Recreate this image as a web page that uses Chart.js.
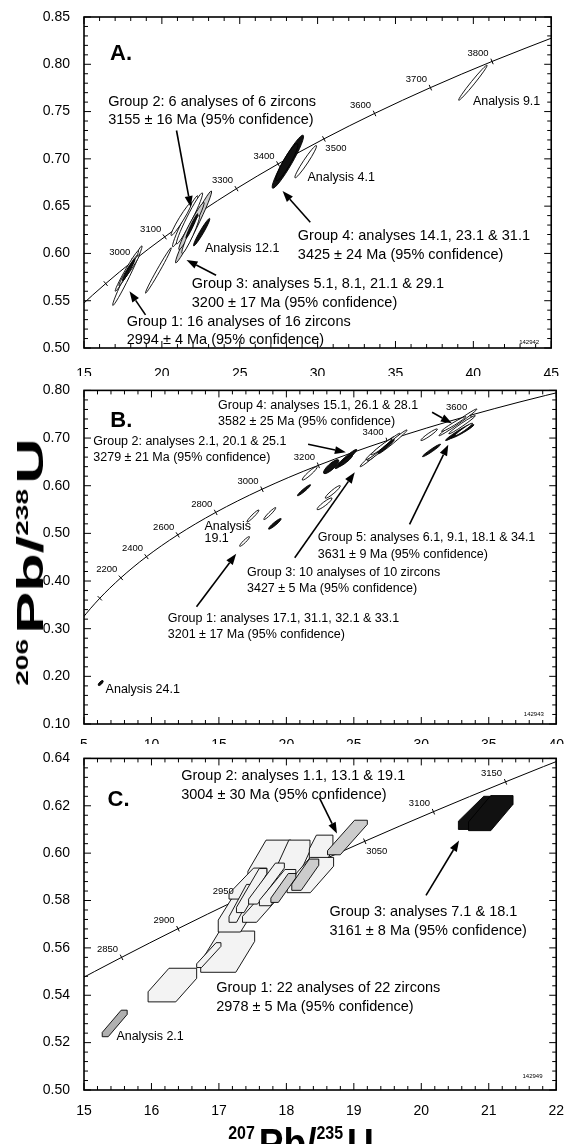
<!DOCTYPE html>
<html>
<head>
<meta charset="utf-8">
<script src="https://cdn.jsdelivr.net/npm/chart.js@4.4.1/dist/chart.umd.min.js"></script>
<style>
body{margin:0;background:#fff;}
#wrap{position:relative;width:569px;height:1144px;overflow:hidden;background:#fff;font-family:"Liberation Sans",Arial,sans-serif;}
canvas{position:absolute;left:0;}
.ttl{position:absolute;font-weight:bold;white-space:nowrap;color:#000;}
#ytitle{font-size:36px;line-height:36px;left:27px;top:562px;transform:translate(-50%,-50%) scaleY(1.75) rotate(-90deg);}
#ytitle span{font-size:16px;vertical-align:15px;margin-right:3px;}
#xtitle{font-size:37px;line-height:37px;left:301px;top:1118px;transform-origin:50% 100%;transform:translateX(-50%) scaleY(1.15);}
#xtitle span{font-size:16px;vertical-align:17px;margin-right:4px;}
</style>
</head>
<body>
<div id="wrap">
<canvas id="chartA" width="569" height="376" style="top:0px"></canvas>
<canvas id="chartB" width="569" height="368" style="top:376px"></canvas>
<canvas id="chartC" width="569" height="400" style="top:744px"></canvas>
<div class="ttl" id="ytitle"><span>206</span>Pb/<span>238</span>U</div>
<div class="ttl" id="xtitle"><span>207</span>Pb/<span>235</span>U</div>
</div>
<script>
// concordia reference points: age (Ma), 207Pb/235U, 206Pb/238U
const concAges = [1800,1900,2000,2100,2200,2300,2400,2500,2600,2700,2750,2800,2850,2900,2950,3000,3050,3100,3150,3200,3300,3400,3500,3600,3700,3800,3900];
const concX = [4.887,5.496,6.169,6.911,7.729,8.633,9.630,10.730,11.944,13.283,14.004,14.762,15.557,16.393,17.271,18.193,19.162,20.180,21.249,22.372,24.790,27.460,30.405,33.656,37.242,41.200,45.568];
const concY = [0.3221,0.3428,0.3638,0.3851,0.4067,0.4287,0.4511,0.4738,0.4968,0.5202,0.5320,0.5440,0.5560,0.5681,0.5803,0.5926,0.6050,0.6175,0.6301,0.6428,0.6685,0.6946,0.7211,0.7480,0.7753,0.8030,0.8312];

// ages marked / labelled on each concordia
const ticksA = [2900,3000,3100,3200,3300,3400,3500,3600,3700,3800];
const labelsA = [3000,3100,3300,3400,3500,3600,3700,3800];
const ticksB = [2000,2200,2400,2600,2800,3000,3200,3400,3600];
const labelsB = [2200,2400,2600,2800,3000,3200,3400,3600];
const ticksC = [2850,2900,2950,3000,3050,3100,3150];
const labelsC = [2850,2900,2950,3050,3100,3150];

// error ellipses: kind, x1, y1, x2, y2 (ends of long axis), width ratio
const ellA = [
  ['o',16.85,0.545,18.72,0.608,0.07],
  ['o',17.01,0.560,18.50,0.603,0.08],
  ['g',17.24,0.566,18.43,0.598,0.09],
  ['o',17.58,0.574,18.56,0.599,0.10],
  ['d',17.47,0.571,18.27,0.594,0.07],
  ['o',18.95,0.558,20.60,0.606,0.06],
  ['g',20.89,0.590,23.18,0.666,0.08],
  ['o',20.70,0.607,22.30,0.661,0.10],
  ['o',20.95,0.610,22.60,0.664,0.10],
  ['g',21.10,0.604,22.70,0.654,0.10],
  ['o',20.60,0.619,21.90,0.654,0.12],
  ['o',21.30,0.600,22.40,0.640,0.12],
  ['d',21.55,0.616,22.30,0.642,0.06],
  ['d',22.04,0.608,23.07,0.637,0.12],
  ['d',27.11,0.669,29.07,0.725,0.14],
  ['d',27.35,0.677,28.70,0.716,0.18],
  ['o',28.55,0.680,29.92,0.714,0.12],
  ['o',39.06,0.762,40.88,0.799,0.08]
];
const ellB = [
  ['o',16.54,0.473,17.26,0.493,0.15],
  ['o',17.08,0.524,17.96,0.549,0.15],
  ['o',18.33,0.529,19.21,0.554,0.15],
  ['d',18.68,0.509,19.61,0.531,0.18],
  ['d',20.82,0.579,21.79,0.602,0.12],
  ['o',21.18,0.612,22.28,0.640,0.18],
  ['d',22.77,0.626,23.87,0.654,0.30],
  ['d',23.62,0.636,25.21,0.676,0.14],
  ['d',23.90,0.641,24.90,0.664,0.20],
  ['o',22.28,0.550,23.38,0.574,0.20],
  ['o',22.89,0.574,23.99,0.600,0.18],
  ['o',25.47,0.640,28.00,0.703,0.08],
  ['o',26.00,0.652,28.41,0.710,0.08],
  ['o',26.81,0.667,28.94,0.717,0.08],
  ['o',25.90,0.655,27.40,0.688,0.12],
  ['o',26.30,0.665,27.80,0.698,0.12],
  ['d',26.80,0.668,28.00,0.697,0.06],
  ['o',29.97,0.695,31.19,0.719,0.15],
  ['o',31.31,0.705,34.12,0.761,0.07],
  ['o',31.50,0.714,33.30,0.745,0.10],
  ['o',32.04,0.709,34.00,0.747,0.09],
  ['d',31.80,0.695,33.75,0.730,0.10],
  ['d',32.20,0.700,33.90,0.728,0.12],
  ['o',32.50,0.705,33.80,0.731,0.12],
  ['d',30.09,0.661,31.43,0.687,0.08],
  ['d',6.07,0.181,6.41,0.191,0.15]
];
// error boxes (panel C): kind, x1, x2, y1, y2, corner cut in x, vertical side fraction
const boxC = [
  ['l',15.95,16.67,0.5372,0.5514,0.43,0.30],
  ['l',16.73,17.53,0.5497,0.5671,0.35,0.25],
  ['l',16.67,17.03,0.5517,0.5622,0.80,0.15],
  ['l',16.99,17.65,0.5667,0.5868,0.50,0.25],
  ['l',17.43,18.07,0.5880,0.6055,0.42,0.25],
  ['l',17.78,18.35,0.5850,0.6055,0.45,0.22],
  ['l',18.34,18.69,0.5960,0.6076,0.30,0.50],
  ['l',18.01,18.70,0.5833,0.5982,0.50,0.25],
  ['l',17.15,17.71,0.5806,0.5937,0.65,0.18],
  ['l',17.15,17.52,0.5708,0.5868,0.70,0.15],
  ['l',17.26,17.71,0.5749,0.5935,0.75,0.12],
  ['l',17.35,17.87,0.5708,0.5833,0.60,0.20],
  ['l',17.44,17.97,0.5785,0.5958,0.75,0.12],
  ['l',17.60,18.14,0.5778,0.5931,0.70,0.15],
  ['g',18.08,18.48,0.5843,0.5975,0.65,0.20],
  ['g',17.77,18.14,0.5792,0.5914,0.70,0.15],
  ['g',18.61,19.20,0.5993,0.6139,0.68,0.12],
  ['d',20.55,21.30,0.6100,0.6240,0.50,0.25],
  ['d',20.70,21.36,0.6095,0.6243,0.50,0.25],
  ['m',15.27,15.64,0.5225,0.5337,0.76,0.16]
];

// texts, placed in data units (left, baseline)
const notesA = [
  {t:'A.', x:16.67, y:0.805, f:'big'},
  {t:'Group 2: 6 analyses of 6 zircons', x:16.55, y:0.756},
  {t:'3155 ± 16 Ma (95% confidence)', x:16.55, y:0.737},
  {t:'Analysis 9.1', x:39.97, y:0.757, f:'s'},
  {t:'Analysis 4.1', x:29.35, y:0.677, f:'s'},
  {t:'Analysis 12.1', x:22.77, y:0.601, f:'s'},
  {t:'Group 4: analyses 14.1, 23.1 & 31.1', x:28.73, y:0.6145},
  {t:'3425 ± 24 Ma (95% confidence)', x:28.73, y:0.594},
  {t:'Group 3: analyses 5.1, 8.1, 21.1 & 29.1', x:21.92, y:0.563},
  {t:'3200 ± 17 Ma (95% confidence)', x:21.92, y:0.543},
  {t:'Group 1: 16 analyses of 16 zircons', x:17.74, y:0.5235},
  {t:'2994 ± 4 Ma (95% confidence)', x:17.74, y:0.5045},
  {t:'142942', x:42.94, y:0.504, f:'tiny'}
];
const notesB = [
  {t:'B.', x:6.95, y:0.724, f:'big'},
  {t:'Group 4: analyses 15.1, 26.1 & 28.1', x:14.94, y:0.761, f:'s'},
  {t:'3582 ± 25 Ma (95% confidence)', x:14.94, y:0.728, f:'s'},
  {t:'Group 2: analyses 2.1, 20.1 & 25.1', x:5.69, y:0.685, f:'s'},
  {t:'3279 ± 21 Ma (95% confidence)', x:5.69, y:0.652, f:'s'},
  {t:'Analysis', x:13.93, y:0.507, f:'s'},
  {t:'19.1', x:13.93, y:0.481, f:'s'},
  {t:'Group 5: analyses 6.1, 9.1, 18.1 & 34.1', x:22.33, y:0.483, f:'s'},
  {t:'3631 ± 9 Ma (95% confidence)', x:22.33, y:0.449, f:'s'},
  {t:'Group 3: 10 analyses of 10 zircons', x:17.08, y:0.411, f:'s'},
  {t:'3427 ± 5 Ma (95% confidence)', x:17.08, y:0.376, f:'s'},
  {t:'Group 1: analyses 17.1, 31.1, 32.1 & 33.1', x:11.21, y:0.314, f:'s'},
  {t:'3201 ± 17 Ma (95% confidence)', x:11.21, y:0.280, f:'s'},
  {t:'Analysis 24.1', x:6.60, y:0.164, f:'s'},
  {t:'142943', x:37.6, y:0.117, f:'tiny'}
];
const notesC = [
  {t:'C.', x:15.35, y:0.6197, f:'big'},
  {t:'Group 2: analyses 1.1, 13.1 & 19.1', x:16.44, y:0.6308},
  {t:'3004 ± 30 Ma (95% confidence)', x:16.44, y:0.6229},
  {t:'Group 3: analyses 7.1 & 18.1', x:18.64, y:0.5736},
  {t:'3161 ± 8 Ma (95% confidence)', x:18.64, y:0.5656},
  {t:'Group 1: 22 analyses of 22 zircons', x:16.96, y:0.5414},
  {t:'2978 ± 5 Ma (95% confidence)', x:16.96, y:0.5333},
  {t:'Analysis 2.1', x:15.48, y:0.5211, f:'s'},
  {t:'142949', x:21.5, y:0.5049, f:'tiny'}
];
// arrows: tail x, y -> head x, y
const arrowsA = [[20.94,0.730,21.85,0.649],[29.53,0.633,27.75,0.666],[23.48,0.577,21.58,0.593],[18.95,0.535,17.92,0.560]];
const arrowsB = [[30.8,0.754,32.27,0.731],[21.61,0.687,24.41,0.670],[20.62,0.449,25.07,0.628],[29.13,0.519,32.0,0.686],[13.34,0.346,16.28,0.457]];
const arrowsC = [[18.49,0.6233,18.75,0.6083],[20.07,0.5822,20.56,0.6053]];

const FONT = '"Liberation Sans", Arial, Helvetica, sans-serif';
const fonts = {n:'14.5px '+FONT, s:'12.5px '+FONT, big:'bold 22px '+FONT, tiny:'6px '+FONT, age:'9.5px '+FONT};
const fills = {o:'#ffffff', g:'#cccccc', d:'#111111', l:'#f3f3f3', m:'#b0b0b0'};

const panels = {
  chartA: {x:[15,45,1,5,0], y:[0.50,0.85,0.01,0.05,2], top:17, xh:28, xpad:10, ticks:ticksA, labels:labelsA,
    ell:ellA, box:[], notes:notesA, arrows:arrowsA, font:'n', ageOff:{3500:[12,9]}},
  chartB: {x:[5,40,1,5,0], y:[0.10,0.80,0.02,0.10,2], top:10, xh:20, xpad:5, ticks:ticksB, labels:labelsB,
    ell:ellB, box:[], notes:notesB, arrows:arrowsB, font:'s', ageOff:{}},
  chartC: {x:[15,22,0.2,1,0], y:[0.50,0.64,0.004,0.02,2], top:10, xh:54, xpad:5, ticks:ticksC, labels:labelsC,
    ell:[], box:boxC, notes:notesC, arrows:arrowsC, font:'n', ageOff:{3050:[12,10]}}
};

function isMult(v, s) { return Math.abs(v / s - Math.round(v / s)) < 1e-6; }
function pt(ch, x, y) { return [ch.scales.x.getPixelForValue(x), ch.scales.y.getPixelForValue(y)]; }
function concPoint(age) { const i = concAges.indexOf(age); return {x: concX[i], y: concY[i]}; }

const shapes = {
  id: 'shapes',
  afterDatasetsDraw(ch) {
    const p = panels[ch.canvas.id], ctx = ch.ctx, a = ch.chartArea;
    ctx.save();
    ctx.beginPath(); ctx.rect(a.left, a.top, a.right - a.left, a.bottom - a.top); ctx.clip();
    ctx.strokeStyle = '#000'; ctx.lineWidth = 0.9;
    p.ell.forEach(e => {
      const [k, x1, y1, x2, y2, r] = e;
      const [ax, ay] = pt(ch, x1, y1), [bx, by] = pt(ch, x2, y2);
      const L = Math.hypot(bx - ax, by - ay) / 2;
      ctx.beginPath();
      ctx.ellipse((ax + bx) / 2, (ay + by) / 2, L, Math.max(L * r, 1.3), Math.atan2(by - ay, bx - ax), 0, Math.PI * 2);
      ctx.fillStyle = fills[k]; ctx.fill(); ctx.stroke();
    });
    p.box.forEach(b => {
      const [k, x1, x2, y1, y2, cx, cy] = b;
      const w = x2 - x1, h = y2 - y1;
      const corners = [[x1 + cx * w, y2], [x2, y2], [x2, y2 - cy * h], [x2 - cx * w, y1], [x1, y1], [x1, y1 + cy * h]];
      ctx.beginPath();
      corners.forEach((c, i) => { const [qx, qy] = pt(ch, c[0], c[1]); i ? ctx.lineTo(qx, qy) : ctx.moveTo(qx, qy); });
      ctx.closePath();
      ctx.fillStyle = fills[k]; ctx.fill(); ctx.stroke();
    });
    ctx.restore();
  }
};

const frame = {
  id: 'frame',
  afterDraw(ch) {
    const p = panels[ch.canvas.id], ctx = ch.ctx, a = ch.chartArea;
    const xs = ch.scales.x, ys = ch.scales.y;
    ctx.save();
    ctx.strokeStyle = '#000'; ctx.lineWidth = 1;
    ctx.beginPath();
    xs.ticks.forEach(t => {
      const q = xs.getPixelForValue(t.value), len = isMult(t.value, p.x[3]) ? 7 : 4;
      ctx.moveTo(q, a.bottom); ctx.lineTo(q, a.bottom - len);
      ctx.moveTo(q, a.top); ctx.lineTo(q, a.top + len);
    });
    ys.ticks.forEach(t => {
      const q = ys.getPixelForValue(t.value), len = isMult(t.value, p.y[3]) ? 7 : 4;
      ctx.moveTo(a.left, q); ctx.lineTo(a.left + len, q);
      ctx.moveTo(a.right, q); ctx.lineTo(a.right - len, q);
    });
    ctx.stroke();
    ctx.lineWidth = 1.6;
    ctx.strokeRect(a.left, a.top, a.right - a.left, a.bottom - a.top);

    // concordia age labels
    ctx.fillStyle = '#000'; ctx.font = fonts.age; ctx.textAlign = 'center'; ctx.textBaseline = 'middle';
    p.labels.forEach(age => {
      const c = concPoint(age), [qx, qy] = pt(ch, c.x, c.y), off = p.ageOff[age] || [-14, -8];
      ctx.fillText(String(age), qx + off[0], qy + off[1]);
    });

    // arrows
    p.arrows.forEach(r => {
      const [sx, sy] = pt(ch, r[0], r[1]), [hx, hy] = pt(ch, r[2], r[3]);
      const ang = Math.atan2(hy - sy, hx - sx), hl = 11, hw = 4;
      const bx = hx - hl * Math.cos(ang), by = hy - hl * Math.sin(ang);
      ctx.lineWidth = 1.6;
      ctx.beginPath(); ctx.moveTo(sx, sy); ctx.lineTo(bx, by); ctx.stroke();
      ctx.beginPath(); ctx.moveTo(hx, hy);
      ctx.lineTo(bx - hw * Math.sin(ang), by + hw * Math.cos(ang));
      ctx.lineTo(bx + hw * Math.sin(ang), by - hw * Math.cos(ang));
      ctx.closePath(); ctx.fill();
    });

    // text notes
    ctx.textAlign = 'left'; ctx.textBaseline = 'alphabetic';
    p.notes.forEach(n => {
      const [qx, qy] = pt(ch, n.x, n.y);
      ctx.font = fonts[n.f || p.font];
      ctx.fillText(n.t, qx, qy);
    });
    ctx.restore();
  }
};

function tickAngle(ctx) {
  const ch = ctx.chart, d = ctx.dataset.data, i = ctx.dataIndex;
  const a = d[Math.max(i - 1, 0)], b = d[Math.min(i + 1, d.length - 1)];
  const [ax, ay] = pt(ch, a.x, a.y), [bx, by] = pt(ch, b.x, b.y);
  return Math.atan2(by - ay, bx - ax) * 180 / Math.PI + 90;
}

function axis(r, pad, fit) {
  return {
    type: 'linear', min: r[0], max: r[1],
    grid: {display: false}, border: {display: false},
    ticks: {stepSize: r[2], autoSkip: false, maxRotation: 0, minRotation: 0, padding: pad, color: '#000',
      font: {family: FONT, size: 14},
      callback: v => isMult(v, r[3]) ? v.toFixed(r[4]) : ''},
    afterFit: fit
  };
}

Object.keys(panels).forEach(id => {
  const p = panels[id];
  const curve = concAges.map((a, i) => ({x: concX[i], y: concY[i]}));
  new Chart(document.getElementById(id), {
    type: 'line',
    data: {
      datasets: [
        {data: curve, borderColor: '#000', borderWidth: 1, pointRadius: 0, cubicInterpolationMode: 'monotone', fill: false},
        {data: p.ticks.map(concPoint), showLine: false, pointStyle: 'line', pointRadius: 3,
          pointBorderColor: '#000', pointBorderWidth: 1, pointRotation: tickAngle}
      ]
    },
    options: {
      responsive: false, animation: false, devicePixelRatio: 1,
      layout: {padding: {top: p.top, right: 7, left: 0, bottom: 0}},
      plugins: {legend: {display: false}, tooltip: {enabled: false}},
      scales: {
        x: axis(p.x, p.xpad, s => { s.height = p.xh; }),
        y: axis(p.y, 6, s => { s.width = 84; })
      }
    },
    plugins: [shapes, frame]
  });
});
</script>
</body>
</html>
